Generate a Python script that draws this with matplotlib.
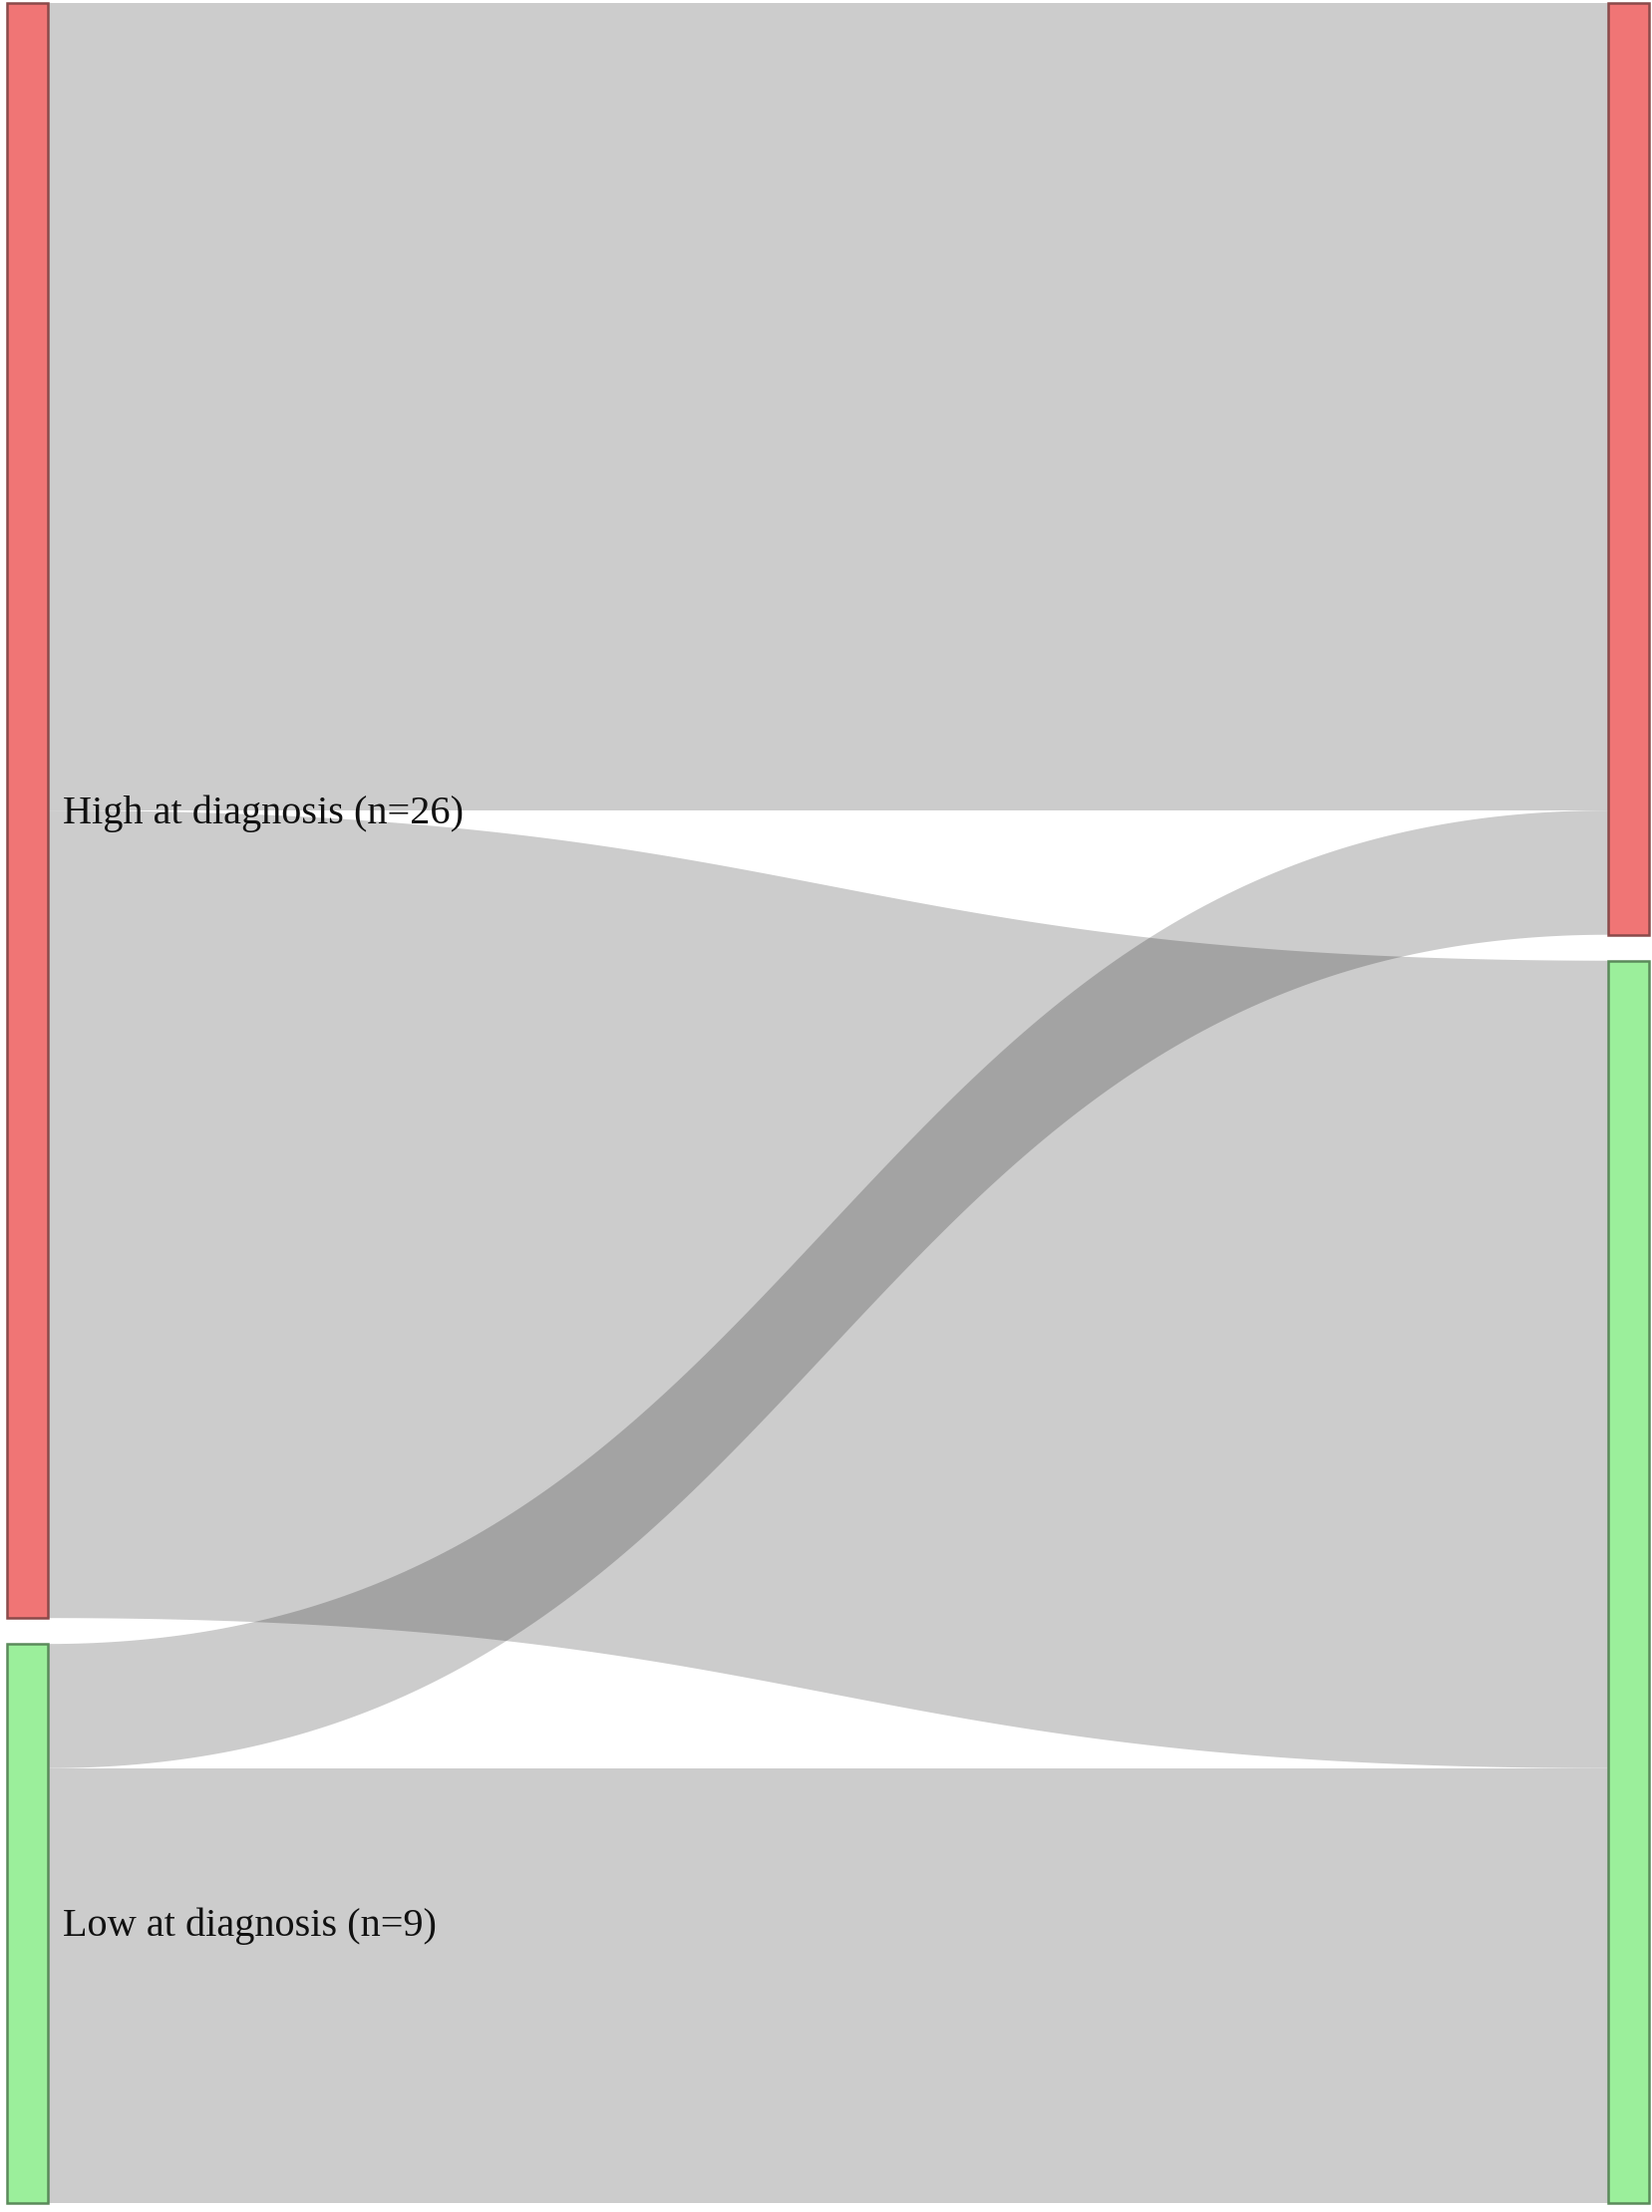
import numpy as np
import matplotlib
matplotlib.use("Agg")
import matplotlib.pyplot as plt
from matplotlib.patches import Rectangle, Polygon

# nodes: left column (at diagnosis), right column (follow-up)
left_names = ["High at diagnosis (n=26)", "Low at diagnosis (n=9)"]
node_colors = ["#f07575", "#9bef9b"]

# links (source index on left, target index on right, value)
link_src = [0, 0, 1, 1]
link_tgt = [0, 1, 0, 1]
link_val = [13, 13, 2, 7]

W, H = 1658, 2219
fig = plt.figure(figsize=(W / 100, H / 100), dpi=100)
ax = fig.add_axes([0, 0, 1, 1])
ax.set_xlim(0, W)
ax.set_ylim(H, 0)
ax.axis("off")

top, bottom = 3, 2210
node_w = 41
x_left, x_right = 7, 1613
gap = 26

left_tot = [sum(v for s, v in zip(link_src, link_val) if s == i) for i in range(2)]
right_tot = [sum(v for t, v in zip(link_tgt, link_val) if t == i) for i in range(2)]
k = (bottom - top - gap) / sum(link_val)


def stack(totals):
    ys, y = [], top
    for t in totals:
        ys.append(y)
        y += t * k + gap
    return ys


left_y = stack(left_tot)
right_y = stack(right_tot)

# links as cubic bezier ribbons
src_off = list(left_y)
tgt_off = list(right_y)
x0 = x_left + node_w
x1 = x_right
xm = (x0 + x1) / 2
t = np.linspace(0, 1, 200)


def bez(ya, yb):
    bx = (1 - t) ** 3 * x0 + 3 * (1 - t) ** 2 * t * xm + 3 * (1 - t) * t ** 2 * xm + t ** 3 * x1
    by = (1 - t) ** 3 * ya + 3 * (1 - t) ** 2 * t * ya + 3 * (1 - t) * t ** 2 * yb + t ** 3 * yb
    return bx, by


for s, g, v in zip(link_src, link_tgt, link_val):
    h = v * k
    ya, yb = src_off[s], tgt_off[g]
    src_off[s] += h
    tgt_off[g] += h
    tx, ty = bez(ya, yb)
    bx, by = bez(ya + h, yb + h)
    pts = np.vstack([np.column_stack([tx, ty]), np.column_stack([bx, by])[::-1]])
    ax.add_patch(Polygon(pts, closed=True, facecolor=(0, 0, 0, 0.2), edgecolor="none"))

# nodes
edge_cols = ["#8a4a4a", "#5a8a5a"]
for i in range(2):
    ax.add_patch(Rectangle((x_left, left_y[i]), node_w, left_tot[i] * k,
                           facecolor=node_colors[i], edgecolor=edge_cols[i], lw=1.8))
    ax.add_patch(Rectangle((x_right, right_y[i]), node_w, right_tot[i] * k,
                           facecolor=node_colors[i], edgecolor=edge_cols[i], lw=1.8))
    ax.text(x_left + node_w + 15, left_y[i] + left_tot[i] * k / 2 + 3, left_names[i],
            family="Liberation Serif", fontsize=29, va="center", ha="left", color="#111111")

fig.savefig("out.png", dpi=100)
